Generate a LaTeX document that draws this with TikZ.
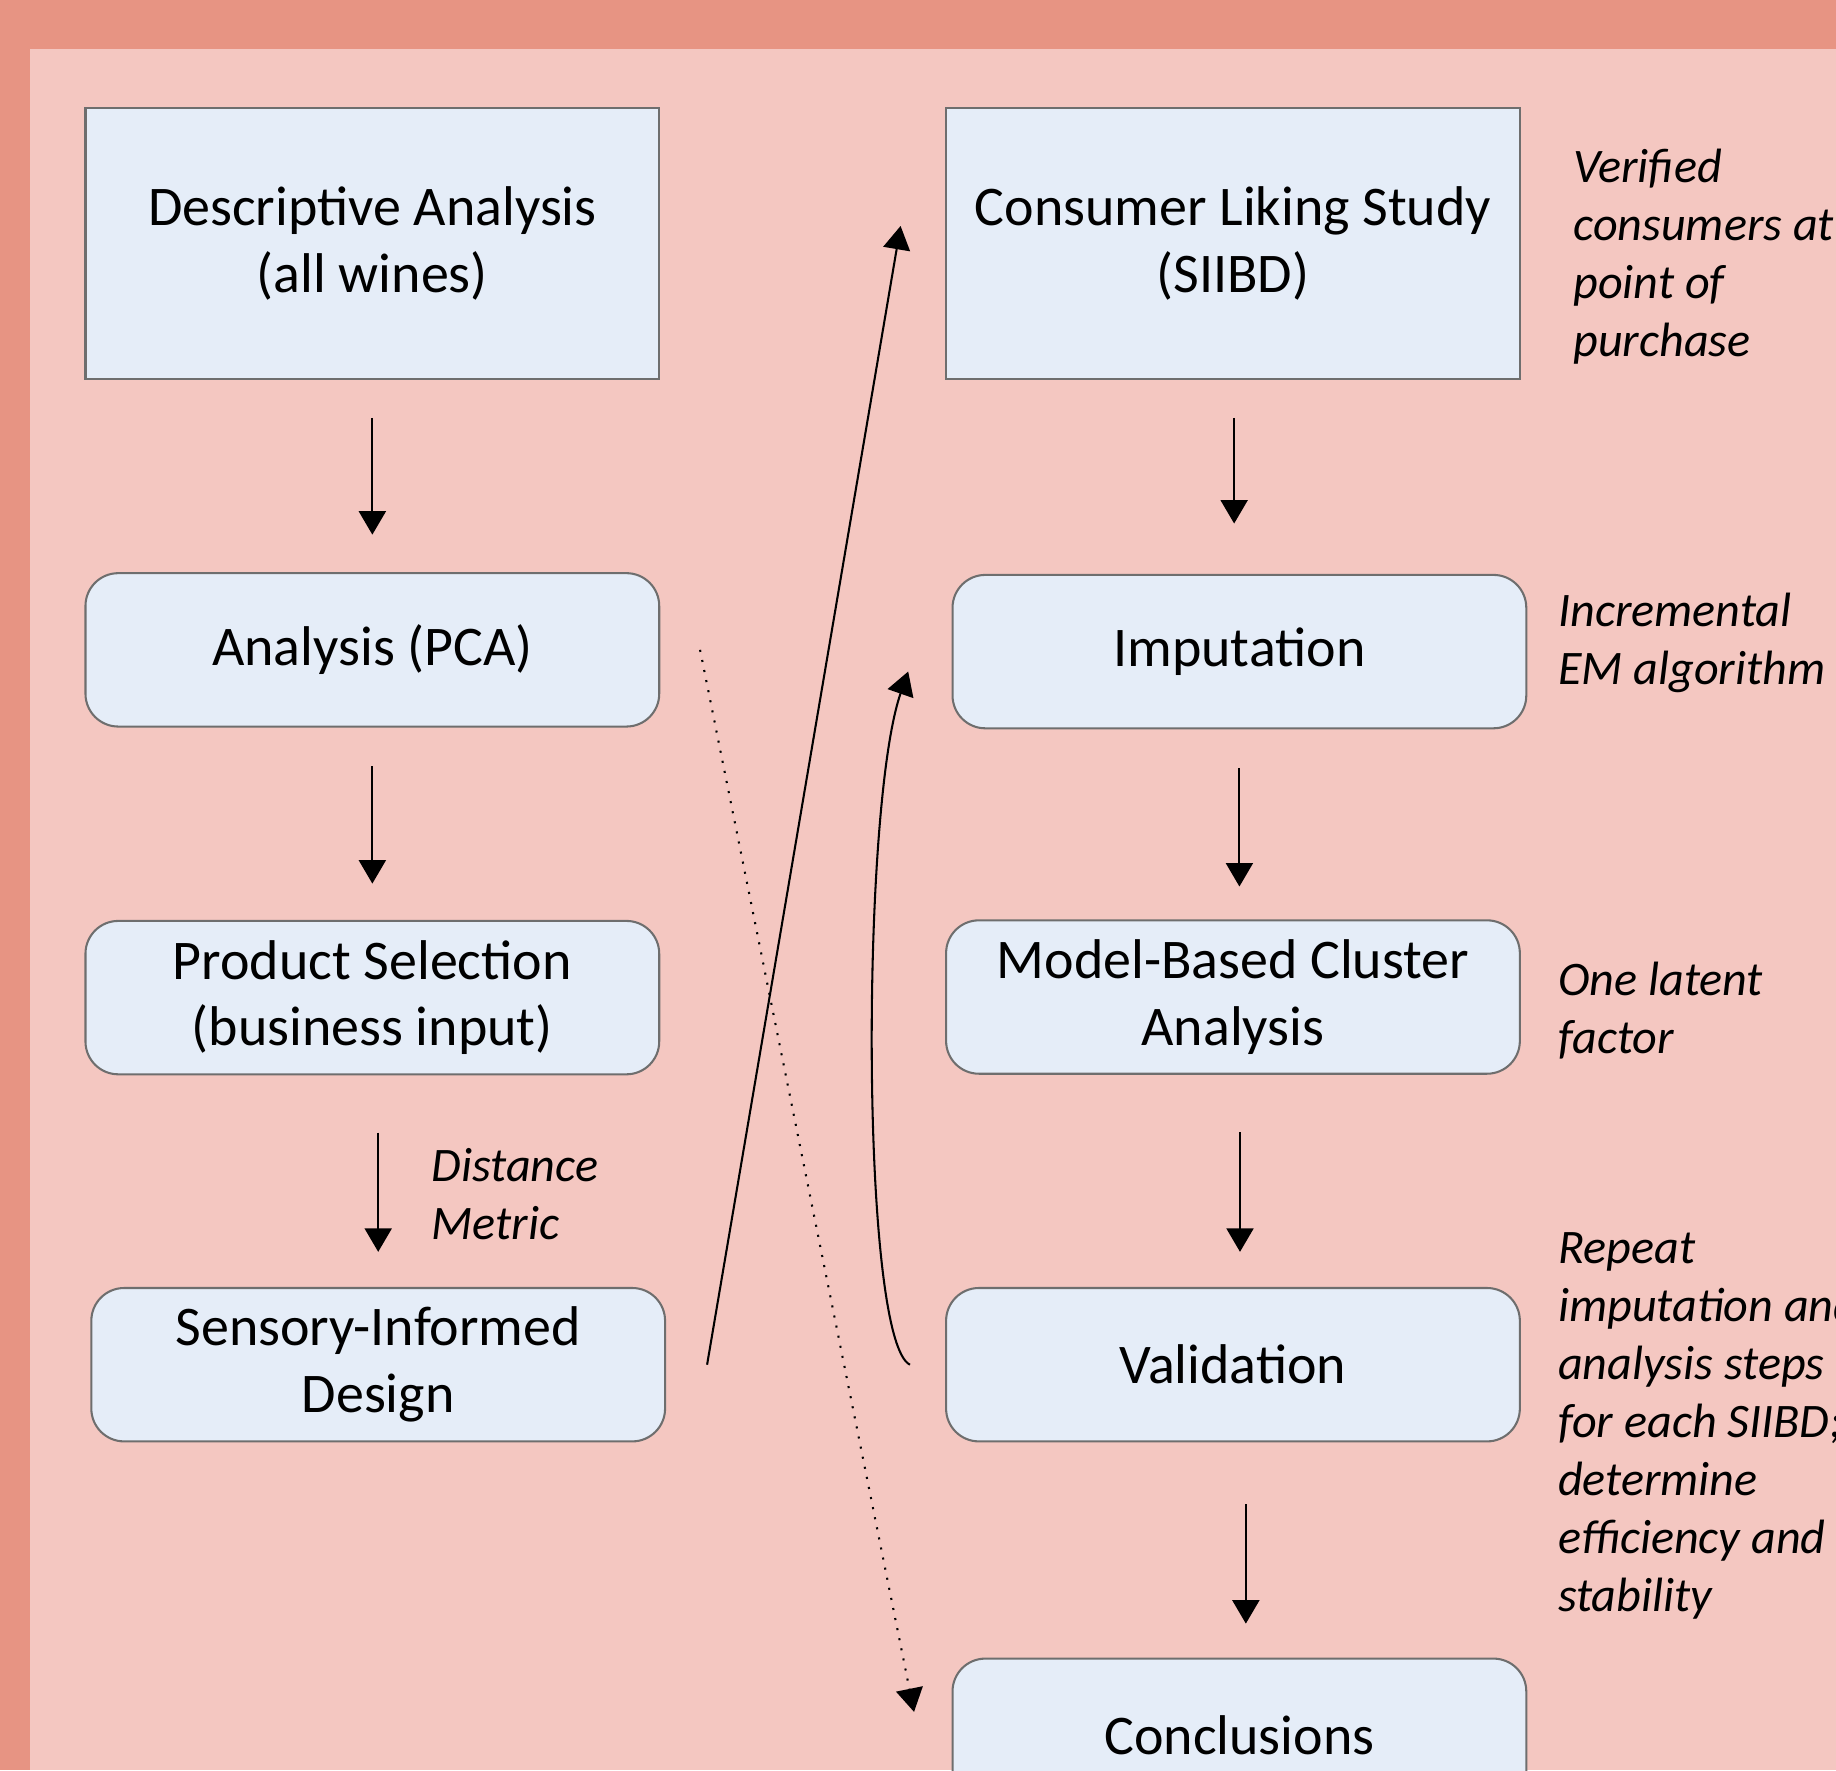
\documentclass[tikz,border=0pt]{standalone}
\usepackage{fontspec}
\setmainfont{Carlito}
\usetikzlibrary{arrows.meta}

\definecolor{framered}{HTML}{E79483}
\definecolor{pagepink}{HTML}{F4C7C1}
\definecolor{boxblue}{HTML}{E5EDF8}
\definecolor{boxline}{HTML}{6E6E6E}

\tikzset{
  stepbox/.style={draw=boxline, fill=boxblue, line width=0.5pt,
    minimum width=49mm, minimum height=13.1mm, align=center,
    font=\fontsize{13.6pt}{16.2pt}\selectfont},
  tallbox/.style={stepbox, minimum height=23.2mm},
  roundbox/.style={stepbox, rounded corners=2.8mm},
  note/.style={anchor=west, align=left, inner sep=0pt,
    font=\fontsize{11.7pt}{14.1pt}\selectfont\itshape},
  arr/.style={-{Triangle[width=2.3mm, length=2mm]}, line width=0.5pt},
}

\begin{document}
\begin{tikzpicture}[x=0.1mm, y=-0.1mm]
\useasboundingbox (0,0) rectangle (1568,1512);
\clip (0,0) rectangle (1568,1512);
\fill[framered] (0,0) rectangle (1568,1512);
\fill[pagepink] (25.6,41.8) rectangle (1568,1512);

% left column
\node[tallbox] (desc) at (318,208) {Descriptive Analysis\\(all wines)};
\node[roundbox] (pca) at (318,555) {Analysis (PCA)};
\node[roundbox] (sel) at (318,852) {Product Selection\\(business input)};
\node[roundbox] (sid) at (323,1165.5) {Sensory-Informed\\Design};

% right column
\node[tallbox] (cls) at (1053,208) {Consumer Liking Study\\(SIIBD)};
\node[roundbox] (imp) at (1058.5,556.5) {Imputation};
\node[roundbox] (mbc) at (1053,851.5) {Model-Based Cluster\\Analysis};
\node[roundbox] (val) at (1053,1165.5) {Validation};
\node[roundbox] (conc) at (1058.5,1482) {Conclusions};

% side notes
\node[note] (dist) at (368,1019.5) {Distance\\Metric};
\node[note] (verif) at (1343,219) {Verified\\consumers at\\point of\\purchase};
\node[note] (incr) at (1330,549) {Incremental\\EM algorithm};
\node[note] (latent) at (1330,863) {One latent\\factor};
\node[note] (rep) at (1330,1218) {Repeat\\imputation and\\analysis steps\\for each SIIBD;\\determine\\efficiency and\\stability};

\draw[arr, shorten <=3.2mm, shorten >=3.2mm] (desc) -- (pca);
\draw[arr, shorten <=3.3mm, shorten >=3.1mm] (pca) -- (sel);
\draw[arr, shorten <=4.9mm, shorten >=3.0mm] (sel.south -| sid) -- (sid);

\draw[arr, shorten <=3.2mm, shorten >=4.3mm] ([xshift=0.1mm]cls.south) -- ([xshift=0.1mm]cls.south |- imp.north);
\draw[arr, shorten <=3.3mm, shorten >=2.8mm] (imp) -- (imp |- mbc.north);
\draw[arr, shorten <=4.9mm, shorten >=3.0mm] ([xshift=0.6mm]mbc.south) -- ([xshift=0.6mm]val.north);
\draw[arr, shorten <=5.3mm, shorten >=2.9mm] ([xshift=1.1mm]val.south) -- ([xshift=0.55mm]conc.north);

\draw[arr] ([xshift=3.5mm]sid.east) -- ([xshift=-3.8mm, yshift=1.5mm]cls.west);
\draw[arr] ([xshift=-3mm]val.west) .. controls (735,1145) and (735,690) .. ([xshift=-3.7mm, yshift=-1.7mm]imp.west);
\draw[arr, dotted] ([xshift=3.4mm]pca.east) -- ([xshift=-3.2mm, yshift=2mm]conc.west);
\end{tikzpicture}
\end{document}
